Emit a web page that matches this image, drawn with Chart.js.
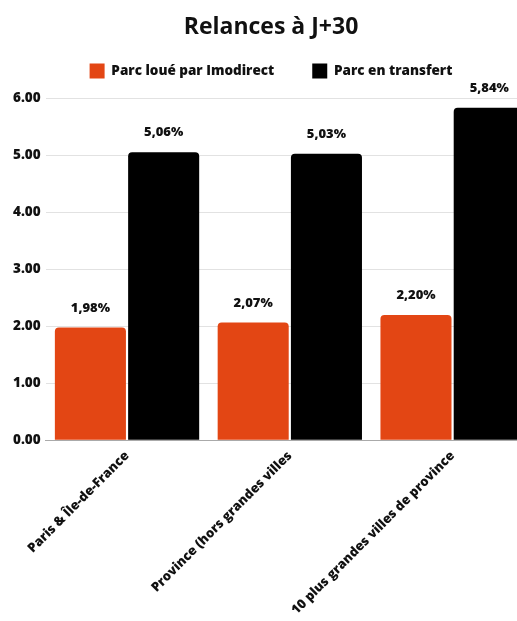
<!DOCTYPE html>
<html>
<head>
<meta charset="utf-8">
<script src="https://cdn.jsdelivr.net/npm/chart.js@4"></script>
<style>
  html, body { margin: 0; padding: 0; background: #fff; overflow: hidden; }
  #wrap { position: absolute; left: 0; top: 0; width: 550px; height: 621px; }
</style>
</head>
<body>
<div id="wrap"><canvas id="relancesChart"></canvas></div>
<script>
const categories = ['Paris & Île-de-France', 'Province (hors grandes villes', '10 plus grandes villes de province'];
const imodirect  = [1.98, 2.07, 2.20];
const transfert  = [5.06, 5.03, 5.84];
const yTicks     = [0, 1, 2, 3, 4, 5, 6];

const FONT = "'Open Sans', sans-serif";

// étiquettes au-dessus des barres
const valueLabels = {
  id: 'valueLabels',
  afterDatasetsDraw(chart) {
    const ctx = chart.ctx;
    ctx.save();
    ctx.font = `800 13px ${FONT}`;
    ctx.fillStyle = '#111';
    ctx.textAlign = 'center';
    ctx.textBaseline = 'bottom';
    chart.data.datasets.forEach((ds, i) => {
      chart.getDatasetMeta(i).data.forEach((bar, j) => {
        const txt = ds.data[j].toFixed(2).replace('.', ',') + '%';
        ctx.fillText(txt, bar.x, bar.y - 13);
      });
    });
    ctx.restore();
  }
};

// un peu d'espace sous la légende
const legendSpace = {
  id: 'legendSpace',
  afterInit(chart) {
    const fit = chart.legend.fit;
    chart.legend.fit = function () {
      fit.call(this);
      this.height += 10;
    };
  }
};

new Chart(document.getElementById('relancesChart').getContext('2d'), {
  type: 'bar',
  data: {
    labels: categories,
    datasets: [
      {
        label: 'Parc loué par Imodirect',
        data: imodirect,
        backgroundColor: '#E34614',
        borderRadius: { topLeft: 4, topRight: 4 },
        borderSkipped: 'bottom',
        categoryPercentage: 0.9,
        barPercentage: 0.97
      },
      {
        label: 'Parc en transfert',
        data: transfert,
        backgroundColor: '#000000',
        borderRadius: { topLeft: 4, topRight: 4 },
        borderSkipped: 'bottom',
        categoryPercentage: 0.9,
        barPercentage: 0.97
      }
    ]
  },
  options: {
    responsive: true,
    maintainAspectRatio: false,
    animation: false,
    layout: { padding: { left: 8, right: 16, top: 10, bottom: 3 } },
    scales: {
      x: {
        grid: { display: false },
        border: { color: '#aaa', width: 1 },
        ticks: {
          color: '#111',
          font: { family: FONT, size: 13, weight: 800 },
          maxRotation: 45,
          minRotation: 45,
          padding: 0
        }
      },
      y: {
        min: 0,
        max: 6,
        afterBuildTicks: (scale) => { scale.ticks = yTicks.map(v => ({ value: v })); },
        grid: { color: '#e2e2e2', drawTicks: false },
        border: { display: false },
        ticks: {
          color: '#111',
          padding: 5,
          font: { family: FONT, size: 13.5, weight: 800 },
          callback: (v) => Number(v).toFixed(2)
        }
      }
    },
    plugins: {
      title: {
        display: true,
        text: 'Relances à J+30',
        color: '#111',
        font: { family: FONT, size: 23, weight: 700 },
        padding: { top: 4, bottom: -16 }
      },
      legend: {
        display: true,
        labels: {
          color: '#111',
          boxWidth: 15,
          boxHeight: 15,
          padding: 38,
          font: { family: FONT, size: 13.5, weight: 800 }
        }
      },
      tooltip: { enabled: false }
    }
  },
  plugins: [valueLabels, legendSpace]
});
</script>
</body>
</html>
